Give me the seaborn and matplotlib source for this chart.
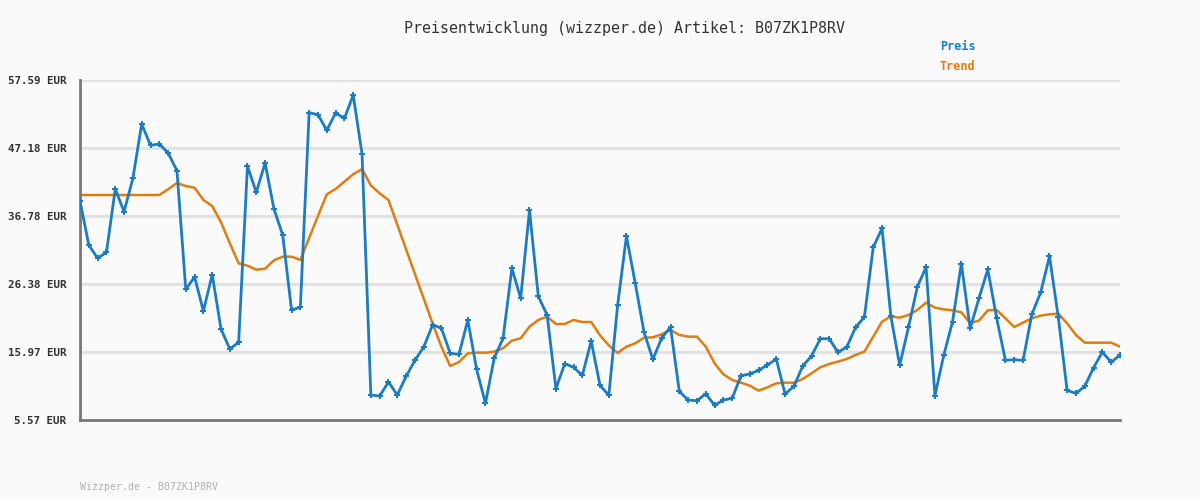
import matplotlib
matplotlib.use("Agg")
import matplotlib.pyplot as plt
import seaborn as sns
import pandas as pd
import numpy as np

preis = [39.08, 32.34, 30.31, 31.22, 40.91, 37.44, 42.54, 50.86, 47.59, 47.80,
         46.42, 43.72, 25.56, 27.45, 22.25, 27.81, 19.49, 16.43, 17.45, 44.43,
         40.40, 44.89, 37.90, 33.87, 22.40, 22.81, 52.59, 52.28, 49.89, 52.54,
         51.72, 55.29, 46.27, 9.39, 9.24, 11.39, 9.39, 12.25, 14.70, 16.74,
         20.10, 19.65, 15.77, 15.62, 20.87, 13.32, 8.12, 15.06, 18.06, 28.78,
         24.19, 37.65, 24.49, 21.63, 10.36, 14.19, 13.63, 12.40, 17.66, 10.87,
         9.34, 23.11, 33.72, 26.48, 18.98, 14.85, 18.11, 19.79, 9.95, 8.62,
         8.52, 9.59, 7.81, 8.62, 8.89, 12.35, 12.61, 13.17, 13.99, 14.90,
         9.55, 10.72, 13.83, 15.36, 18.01, 18.01, 15.92, 16.74, 19.75, 21.33,
         31.99, 34.89, 21.48, 13.94, 19.75, 25.92, 28.98, 9.29, 15.46, 20.62,
         29.49, 19.59, 24.19, 28.62, 21.18, 14.70, 14.80, 14.70, 21.74, 25.10,
         30.61, 21.28, 10.11, 9.64, 10.72, 13.57, 15.97, 14.39, 15.51]

trend = [39.99, 39.99, 39.99, 39.99, 39.99, 39.99, 39.99, 39.99, 39.99, 39.99,
         40.87, 41.83, 41.37, 41.11, 39.23, 38.31, 35.82, 32.60, 29.54, 29.18,
         28.57, 28.72, 30.00, 30.56, 30.56, 30.05, 33.42, 36.78, 40.10, 40.91,
         42.04, 43.16, 43.97, 41.47, 40.25, 39.23, 35.46, 31.68, 27.91, 24.13,
         20.36, 16.79, 13.83, 14.44, 15.77, 15.87, 15.87, 16.03, 16.54, 17.71,
         18.07, 19.85, 20.87, 21.38, 20.26, 20.26, 20.87, 20.56, 20.56, 18.52,
         16.99, 15.82, 16.79, 17.30, 18.17, 18.22, 18.68, 19.34, 18.58, 18.32,
         18.32, 16.79, 14.24, 12.56, 11.69, 11.28, 10.82, 10.06, 10.57, 11.18,
         11.28, 11.28, 11.84, 12.71, 13.63, 14.14, 14.50, 14.90, 15.52, 16.03,
         18.32, 20.62, 21.43, 21.23, 21.64, 22.40, 23.52, 22.76, 22.50, 22.35,
         22.04, 20.41, 20.77, 22.35, 22.40, 21.13, 19.80, 20.46, 21.13, 21.53,
         21.74, 21.84, 20.36, 18.58, 17.40, 17.40, 17.40, 17.40, 16.79]

y_ticks = [5.57, 15.97, 26.38, 36.78, 47.18, 57.59]
y_labels = ["5.57 EUR", "15.97 EUR", "26.38 EUR", "36.78 EUR", "47.18 EUR", "57.59 EUR"]

title = "Preisentwicklung (wizzper.de) Artikel: B07ZK1P8RV"
footer = "Wizzper.de - B07ZK1P8RV"

BLUE = "#1b7cc4"
ORANGE = "#e07d12"
BG = "#fafafa"

sns.set_theme(style="white")
plt.rcParams['font.family'] = ['DejaVu Sans Mono', 'DejaVu Sans']

df = pd.DataFrame({"idx": np.arange(len(preis)), "Preis": preis, "Trend": trend})

fig = plt.figure(figsize=(12, 5), dpi=100, facecolor=BG)
ax = fig.add_axes([80/1200, 80/500, 1040/1200, 340/500])
ax.set_facecolor(BG)

for t in y_ticks[1:]:
    ax.axhline(t, color="#e2e2e2", lw=2.2, zorder=0)

sns.lineplot(data=df, x="idx", y="Trend", ax=ax, color=ORANGE, lw=1.8, zorder=2)
sns.lineplot(data=df, x="idx", y="Preis", ax=ax, color=BLUE, lw=2.0, zorder=3,
             marker="P", markersize=4, markeredgewidth=0, markerfacecolor=BLUE)

ax.set_xlim(0, len(preis) - 1)
ax.set_ylim(y_ticks[0], y_ticks[-1])
ax.set_yticks(y_ticks)
ax.set_yticklabels(y_labels, fontsize=7.8, fontweight="bold", color="#333333")
ax.set_xticks([])
ax.set_xlabel("")
ax.set_ylabel("")
ax.tick_params(axis="y", length=0, pad=10)
for s in ["top", "right"]:
    ax.spines[s].set_visible(False)
for s in ["left", "bottom"]:
    ax.spines[s].set_color("#777777")
    ax.spines[s].set_linewidth(2)

fig.text(624/1200, 1 - 28/500, title, ha="center", va="center", fontsize=10.8, color="#333333")
fig.text(940/1200, 1 - 47/500, "Preis", ha="left", va="center", fontsize=8.5, fontweight="bold", color=BLUE)
fig.text(940/1200, 1 - 67/500, "Trend", ha="left", va="center", fontsize=8.5, fontweight="bold", color=ORANGE)
fig.text(80/1200, 1 - 487/500, footer, ha="left", va="center", fontsize=7.1, color="#b0b0b0")

fig.savefig("out.png", dpi=100, facecolor=BG)
